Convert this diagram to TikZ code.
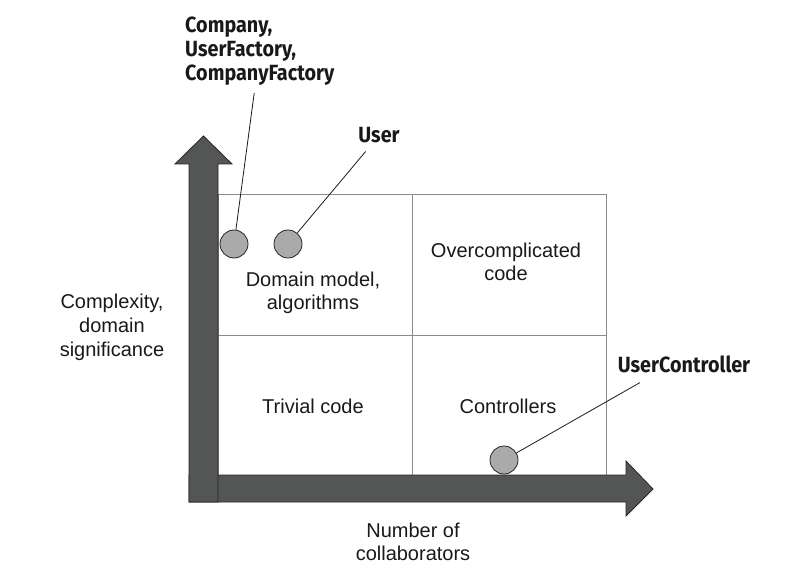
\documentclass[tikz,border=0pt]{standalone}
\usepackage{fontspec}
\setmainfont{Liberation Sans}
\newfontfamily\tagfont{Fira Sans}[FakeStretch=0.9]
\usetikzlibrary{positioning}
\definecolor{axiscolor}{HTML}{545655}
\definecolor{dotcolor}{HTML}{A9AAA9}
\definecolor{gridcolor}{HTML}{8A8A8A}

\begin{document}
\begin{tikzpicture}[x=1pt, y=-1pt,
% define styles here
axis/.style={draw=black!85, fill=axiscolor, line width=0.8pt, line join=miter},
quadrant/.style={draw=gridcolor, line width=0.9pt},
dot/.style={circle, draw=black!85, fill=dotcolor, line width=0.8pt, minimum size=28pt, inner sep=0pt},
caption/.style={align=center, font=\fontsize{20}{23}\selectfont, text=black!90},
tag/.style={align=left, font=\tagfont\bfseries\fontsize{22}{24}\selectfont, text=black!90, inner sep=1pt},
pointer/.style={draw=black!90, line width=0.8pt}
]
\useasboundingbox (0,0) rectangle (798,580);

% quadrants
\draw[quadrant] (218,194) rectangle (606,475);
\draw[quadrant] (412,194) -- (412,475);
\draw[quadrant] (218,335) -- (606,335);

% axes
\draw[axis] (189,475) -- (626,475) -- (626,461) -- (653,489) -- (626,516) -- (626,502) -- (189,502) -- cycle;
\draw[axis] (189,502) -- (189,164) -- (175,164) -- (203.5,136) -- (232,164) -- (218,164) -- (218,502) -- cycle;

% quadrant texts
\node[caption] (domain) at (313,293) {Domain model,\\algorithms};
\node[caption] (overcomplicated) at (506,262) {Overcomplicated\\code};
\node[caption] (trivial) at (313,406) {Trivial code};
\node[caption] (controllers) at (508,406) {Controllers};

% axis texts
\node[caption] (xlabel) at (413,542) {Number of\\collaborators};
\node[caption, font=\fontsize{20}{24}\selectfont] (ylabel) at (112,327) {Complexity,\\domain\\significance};

% classes
\node[dot] (c1) at (234,244) {};
\node[dot] (c2) at (288,244) {};
\node[dot] (c3) at (504,460) {};

\node[tag, anchor=north west] (company) at (184,16) {Company,\\UserFactory,\\CompanyFactory};
\node[tag, anchor=base] (user) at (379,143) {User};
\node[tag, anchor=base] (uc) at (684,372) {UserController};
\coordinate (ucfoot) at ([xshift=-44pt, yshift=-9pt]uc.south);

\draw[pointer, shorten <=6pt] (company) -- (c1);
\draw[pointer, shorten <=9pt] (user) -- (c2);
\draw[pointer] (ucfoot) -- (c3);
\end{tikzpicture}
\end{document}
